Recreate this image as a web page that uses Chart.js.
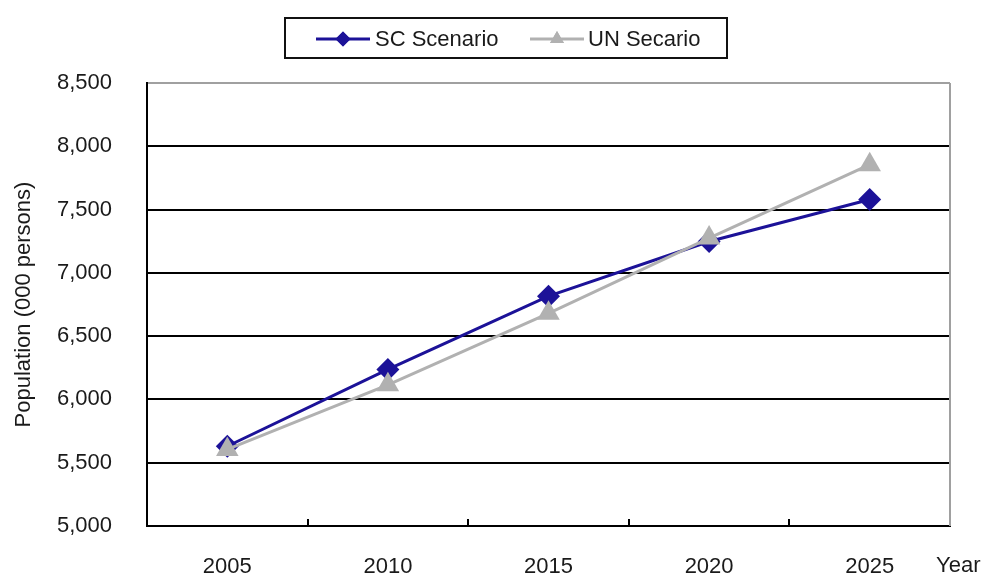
<!DOCTYPE html>
<html>
<head>
<meta charset="utf-8">
<title>Population projection</title>
<script src="https://cdn.jsdelivr.net/npm/chart.js@4.4.1/dist/chart.umd.min.js"></script>
<style>
  html, body { margin: 0; padding: 0; background: #ffffff; }
  #wrap { width: 985px; height: 577px; position: relative; }
</style>
</head>
<body>
<div id="wrap"><canvas id="chart" width="985" height="577"></canvas></div>
<script>
// Population projections, thousands of persons
const years = ['2005', '2010', '2015', '2020', '2025'];
const scScenario = [5630, 6237, 6816, 7248, 7580];
const unScenario = [5605, 6115, 6680, 7275, 7855];
const seriesNames = ['SC Scenario', 'UN Secario'];
const yAxisTitle = 'Population (000 persons)';
const xAxisTitle = 'Year';

const FONT = '"Liberation Sans", Arial, sans-serif';
const BLUE = '#1c1298';
const GREY = '#b1b1b1';
const TEXT = '#1a1a1a';

// Legend box, inward x-axis ticks, right frame edge and the "Year" caption
const decorations = {
  id: 'decorations',
  afterDraw(chart) {
    const ctx = chart.ctx;
    const area = chart.chartArea;
    const xs = chart.scales.x;
    ctx.save();

    // right frame edge
    ctx.strokeStyle = '#a0a0a0';
    ctx.lineWidth = 2;
    ctx.beginPath();
    ctx.moveTo(area.right, area.top);
    ctx.lineTo(area.right, area.bottom);
    ctx.stroke();

    // short ticks between categories, pointing into the plot
    ctx.strokeStyle = '#000';
    ctx.lineWidth = 2;
    for (let i = 0; i < years.length - 1; i++) {
      const bx = (xs.getPixelForValue(i) + xs.getPixelForValue(i + 1)) / 2;
      ctx.beginPath();
      ctx.moveTo(Math.round(bx), area.bottom);
      ctx.lineTo(Math.round(bx), area.bottom - 7);
      ctx.stroke();
    }

    // axis caption at the right end of the category labels
    ctx.fillStyle = TEXT;
    ctx.font = '22px ' + FONT;
    ctx.textAlign = 'left';
    ctx.textBaseline = 'middle';
    ctx.fillText(xAxisTitle, 936, 566);

    // legend
    ctx.fillStyle = '#fff';
    ctx.fillRect(285, 18, 442, 40);
    ctx.strokeStyle = '#111';
    ctx.lineWidth = 2;
    ctx.strokeRect(285, 18, 442, 40);

    const ly = 39;
    const items = [
      { x0: 316, x1: 370, tx: 375, color: BLUE, shape: 'rectRot', r: 7.5 },
      { x0: 530, x1: 584, tx: 588, color: GREY, shape: 'triangle', r: 8 }
    ];
    items.forEach((it, i) => {
      ctx.strokeStyle = it.color;
      ctx.lineWidth = 3;
      ctx.beginPath();
      ctx.moveTo(it.x0, ly);
      ctx.lineTo(it.x1, ly);
      ctx.stroke();
      ctx.fillStyle = it.color;
      Chart.helpers.drawPoint(ctx, { pointStyle: it.shape, radius: it.r, rotation: 0, borderWidth: 0 }, (it.x0 + it.x1) / 2, ly);
      ctx.fill();
      ctx.fillStyle = TEXT;
      ctx.font = '22px ' + FONT;
      ctx.textAlign = 'left';
      ctx.textBaseline = 'middle';
      ctx.fillText(seriesNames[i], it.tx, ly + 1);
    });
    ctx.restore();
  }
};

new Chart(document.getElementById('chart'), {
  type: 'line',
  data: {
    labels: years,
    datasets: [
      {
        label: seriesNames[0],
        data: scScenario,
        borderColor: BLUE,
        backgroundColor: BLUE,
        borderWidth: 3,
        pointStyle: 'rectRot',
        pointRadius: 11.5,
        pointBorderWidth: 0,
        tension: 0,
        order: 2
      },
      {
        label: seriesNames[1],
        data: unScenario,
        borderColor: GREY,
        backgroundColor: GREY,
        borderWidth: 3,
        pointStyle: 'triangle',
        pointRadius: 13,
        pointBorderWidth: 0,
        tension: 0,
        order: 1
      }
    ]
  },
  options: {
    responsive: false,
    animation: false,
    devicePixelRatio: 1,
    layout: { padding: { top: 83, right: 35, bottom: 0, left: 0 } },
    plugins: {
      legend: { display: false },
      tooltip: { enabled: false },
      title: { display: false }
    },
    scales: {
      x: {
        type: 'category',
        offset: true,
        grid: { display: false, offset: true },
        border: { display: true, color: '#000', width: 2 },
        ticks: {
          color: TEXT,
          font: { family: FONT, size: 22 },
          padding: 20,
          maxRotation: 0,
          autoSkip: false
        },
        afterFit(scale) { scale.height = 51; }
      },
      y: {
        min: 5000,
        max: 8500,
        grid: {
          drawTicks: false,
          color: ctx => (ctx.tick && ctx.tick.value === 8500 ? '#a0a0a0' : '#000'),
          lineWidth: 2
        },
        border: { display: true, color: '#000', width: 2 },
        ticks: {
          stepSize: 500,
          color: TEXT,
          font: { family: FONT, size: 22 },
          padding: 35,
          callback: v => v.toLocaleString('en-US')
        },
        title: {
          display: true,
          text: yAxisTitle,
          color: TEXT,
          font: { family: FONT, size: 22 },
          padding: { top: 11, bottom: 0 }
        },
        afterFit(scale) { scale.width = 147; }
      }
    }
  },
  plugins: [decorations]
});
</script>
</body>
</html>
